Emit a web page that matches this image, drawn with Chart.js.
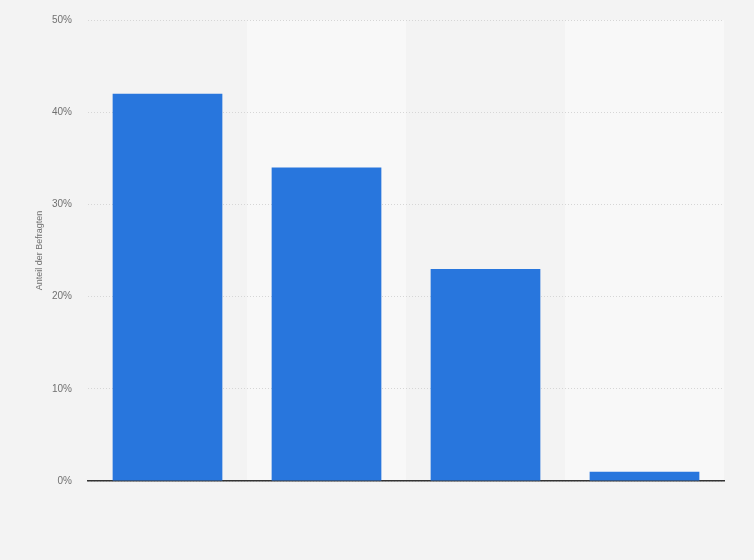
<!DOCTYPE html>
<html>
<head>
<meta charset="utf-8">
<script src="https://cdn.jsdelivr.net/npm/chart.js@4"></script>
<style>
  html, body { margin: 0; padding: 0; background: #f3f3f3; }
  #wrap { width: 754px; height: 560px; }
</style>
</head>
<body>
<div id="wrap"><canvas id="surveyChart"></canvas></div>
<script>
// categories are not printed in the picture, so x ticks stay hidden
const categories = ['Kategorie 1', 'Kategorie 2', 'Kategorie 3', 'Kategorie 4'];
const shares = [42, 34, 23, 1];
const yTicks = [0, 10, 20, 30, 40, 50];

// light stripes behind every second category
const bandPlugin = {
    id: 'bands',
    beforeDraw(chart) {
        const {ctx, chartArea, scales} = chart;
        const x = scales.x;
        const step = x.getPixelForValue(1) - x.getPixelForValue(0);
        ctx.save();
        categories.forEach((c, i) => {
            if (i % 2 === 1) {
                const mid = x.getPixelForValue(i);
                ctx.fillStyle = '#f8f8f8';
                ctx.fillRect(mid - step / 2, chartArea.top, step, chartArea.bottom - chartArea.top);
            }
        });
        ctx.restore();
    }
};

function drawSurveyChart(labels, data) {
    const ctx = document.getElementById('surveyChart').getContext('2d');
    window.surveyChart = new Chart(ctx, {
        type: 'bar',
        data: {
            labels: labels,
            datasets: [{
                label: 'Anteil der Befragten',
                data: data,
                backgroundColor: '#2876dd',
                borderWidth: 0,
                barPercentage: 0.69,
                categoryPercentage: 1
            }]
        },
        options: {
            responsive: true,
            maintainAspectRatio: false,
            animation: false,
            layout: { padding: { top: 20, right: 30, bottom: 79, left: 0 } },
            plugins: {
                legend: { display: false },
                tooltip: { enabled: false }
            },
            scales: {
                x: {
                    ticks: { display: false },
                    grid: { display: false, drawTicks: false },
                    border: { display: true, color: '#333333', width: 1.5 },
                    afterFit: s => { s.height = 0; }
                },
                y: {
                    min: 0,
                    max: 50,
                    afterBuildTicks: s => { s.ticks = yTicks.map(v => ({ value: v })); },
                    ticks: {
                        padding: 16,
                        color: '#707070',
                        font: { family: 'Arial, Liberation Sans, sans-serif', size: 10 },
                        callback: v => v + '%'
                    },
                    grid: { color: '#d6d6d6', drawTicks: false, lineWidth: 1 },
                    border: { display: false, dash: [1, 2] },
                    title: {
                        display: true,
                        text: 'Anteil der Befragten',
                        color: '#707070',
                        font: { family: 'Arial, Liberation Sans, sans-serif', size: 9 },
                        padding: { top: 34, bottom: 0 }
                    },
                    afterFit: s => { s.width = 88; s.paddingTop = 0; s.paddingBottom = 0; }
                }
            }
        },
        plugins: [bandPlugin]
    });
}

drawSurveyChart(categories, shares);
</script>
</body>
</html>
